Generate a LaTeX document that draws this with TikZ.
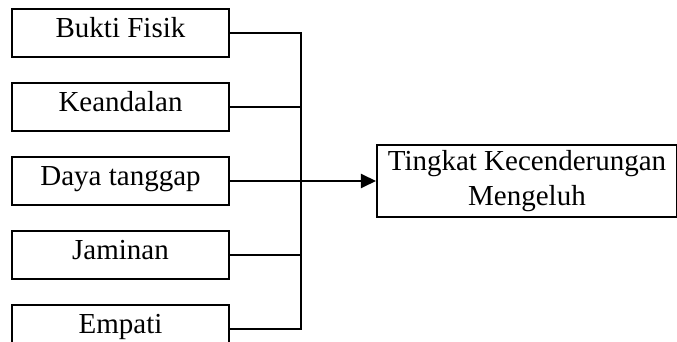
\documentclass[tikz,border=0pt]{standalone}
\usepackage{fontspec}
\setmainfont{Liberation Serif}
\usetikzlibrary{arrows.meta}
\usetikzlibrary{positioning}
\usetikzlibrary{calc}

\begin{document}
\begin{tikzpicture}[->,>={Triangle[length=7.5pt,width=7pt]},node distance=12pt,
					  line width=1pt,
					  box node/.style={rectangle,draw,inner sep=0pt,align=center,font=\fontsize{14.5}{16.5}\selectfont},
					  var node/.style={box node,minimum width=108.5pt,minimum height=24pt,text height=11pt,text depth=6pt}]
					
					  \fill[white] (0,0) rectangle (338.5pt,-171pt);
					  \useasboundingbox (0,0) rectangle (338.5pt,-171pt);
					
					  \node[var node] (bukti) at (60.25pt,-16.5pt) {Bukti Fisik};
					  \node[var node] (keandalan) [below=of bukti] {Keandalan};
					  \node[var node] (daya) [below=of keandalan] {Daya tanggap};
					  \node[var node] (jaminan) [below=of daya] {Jaminan};
					  \node[var node] (empati) [below=of jaminan] {Empati};
					  \node[box node,minimum width=150pt,minimum height=36pt] (tingkat) [right=73pt of daya]
					    {\raisebox{1pt}{Tingkat Kecenderungan}\\Mengeluh};
					
					  % collecting line
					  \coordinate (bus) at (150.5pt,0);
					  \draw[-] (bukti.east) -- (bukti.east -| bus) -- (empati.east -| bus) -- (empati.east);
					  \draw[-] (keandalan.east) -- (keandalan.east -| bus);
					  \draw[-] (jaminan.east) -- (jaminan.east -| bus);
					  \draw (daya.east) -- (tingkat.west);
					\end{tikzpicture}
\end{document}
